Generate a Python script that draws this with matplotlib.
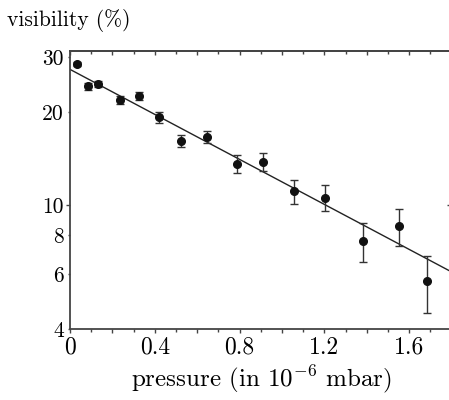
import numpy as np
import matplotlib
matplotlib.use("Agg")
import matplotlib.pyplot as plt
from matplotlib.ticker import FixedLocator, MultipleLocator, FuncFormatter

plt.rcParams['font.family'] = ['cmr10', 'DejaVu Serif']
plt.rcParams['mathtext.fontset'] = 'cm'
plt.rcParams['axes.formatter.use_mathtext'] = True

pressure = [0.033, 0.085, 0.132, 0.236, 0.325, 0.42, 0.524, 0.646,
            0.79, 0.91, 1.055, 1.204, 1.383, 1.553, 1.684]
visibility = [28.5, 24.2, 24.6, 21.8, 22.5, 19.2, 16.1, 16.6,
              13.6, 13.8, 11.1, 10.6, 7.67, 8.56, 5.69]
errors = [0.4, 0.6, 0.6, 0.65, 0.6, 0.8, 0.7, 0.75,
          0.9, 0.9, 1.0, 1.0, 1.1, 1.15, 1.2]
fit_v0 = 27.4
fit_rate = 0.834
ytick_major = [10]
ytick_minor = [4, 6, 8, 20, 30]
xtick_labels = ["0", "0.4", "0.8", "1.2", "1.6"]

W, H = 449, 400
fig = plt.figure(figsize=(W / 100, H / 100), dpi=100)
left_px, right_px, top_px, bottom_px = 70, 453, 51, 329
ax = fig.add_axes([left_px / W, 1 - bottom_px / H,
                   (right_px - left_px) / W, (bottom_px - top_px) / H])

xmax = (right_px - left_px) / 212.0
ax.set_yscale('log')
ax.set_xlim(0, xmax)
ax.set_ylim(4, 31.4)

xs = np.linspace(0, xmax, 200)
ax.plot(xs, fit_v0 * np.exp(-fit_rate * xs), color='#222222', lw=1.0, zorder=2)
ax.errorbar(pressure, visibility, yerr=errors, fmt='o', color='#111111',
            ecolor='#333333', elinewidth=1.0, capsize=3.2, capthick=1.0,
            markersize=5.5, zorder=3)

spine_col = '#444444'
for s in ax.spines.values():
    s.set_color(spine_col)
    s.set_linewidth(1.3)

intfmt = FuncFormatter(lambda v, p: f"{int(round(v))}")
# y ticks
ax.yaxis.set_major_locator(FixedLocator(ytick_major))
ax.yaxis.set_minor_locator(FixedLocator(ytick_minor))
ax.yaxis.set_major_formatter(intfmt)
ax.yaxis.set_minor_formatter(intfmt)
ax.tick_params(axis='y', which='major', direction='out', length=3, width=1.0,
               color=spine_col, labelsize=15.5, pad=1.3)
ax.tick_params(axis='y', which='minor', direction='out', length=1.5, width=1.0,
               color=spine_col, labelsize=15.5, pad=2.8)

# x ticks
ax.xaxis.set_major_locator(MultipleLocator(0.2))
ax.xaxis.set_minor_locator(MultipleLocator(0.1))
def xfmt(v, p):
    k = int(round(v / 0.4))
    if abs(v - 0.4 * k) < 1e-6 and 0 <= k < len(xtick_labels):
        return xtick_labels[k]
    return ""
ax.xaxis.set_major_formatter(FuncFormatter(xfmt))
ax.tick_params(axis='x', which='major', direction='out', length=3, width=1.0,
               color=spine_col, labelsize=17, pad=2.5)
ax.tick_params(axis='x', which='minor', direction='out', length=1.8, width=1.0,
               color=spine_col)

# mirrored ticks on top/right, pointing inward
topax = ax.secondary_xaxis('top')
topax.xaxis.set_major_locator(MultipleLocator(0.2))
topax.xaxis.set_minor_locator(MultipleLocator(0.1))
topax.tick_params(which='major', direction='in', length=3, width=1.0, color=spine_col,
                  labeltop=False)
topax.tick_params(which='minor', direction='in', length=1.8, width=1.0, color=spine_col)
topax.spines['top'].set_color(spine_col)
topax.spines['top'].set_linewidth(1.3)

rightax = ax.secondary_yaxis('right')
rightax.yaxis.set_major_locator(FixedLocator(ytick_major))
rightax.yaxis.set_minor_locator(FixedLocator(ytick_minor))
rightax.tick_params(which='major', direction='in', length=4, width=1.0, color=spine_col,
                    labelright=False)
rightax.tick_params(which='minor', direction='in', length=1.5, width=1.0, color=spine_col,
                    labelright=False)

ax.set_xlabel(r"pressure (in $10^{-6}$ mbar)", fontsize=18, labelpad=3)
fig.text(7 / W, 1 - 20 / H, "visibility (%)", fontsize=15.5, ha='left', va='center')

fig.savefig("out.png", dpi=100)
